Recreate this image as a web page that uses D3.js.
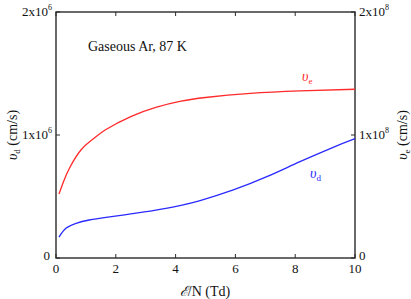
<!DOCTYPE html>
<html><head><meta charset="utf-8">
<script src="https://cdn.jsdelivr.net/npm/d3@7"></script>
</head><body style="margin:0;background:#fff"><svg id="c" width="411" height="299"></svg>
<script>
const fieldTd = [0.1,0.33,0.67,1.11,1.67,2.5,3.34,4.18,4.82,5.93,7.05,8.16,9.27,10];
const driftVd = [0.17e6,0.241e6,0.282e6,0.309e6,0.331e6,0.358e6,0.389e6,0.428e6,0.466e6,0.553e6,0.661e6,0.783e6,0.9e6,0.97e6];
const fieldTdE = [0.1,0.25,0.45,0.84,1.25,1.67,2.5,3.34,4.18,5,6.5,8.16,10];
const electronVe = [0.52e8,0.62e8,0.73e8,0.88e8,0.97e8,1.045e8,1.15e8,1.225e8,1.275e8,1.305e8,1.338e8,1.358e8,1.372e8];
const xTicks = [0,2,4,6,8,10];
const leftTicks = [0,1e6,2e6];
const rightTicks = [0,1e8,2e8];

const svg = d3.select("#c");
const FF = '"Liberation Serif"';
const L=56,R=355,T=12,B=258;
const x = d3.scaleLinear().domain([0,10]).range([L,R]);
const yL = d3.scaleLinear().domain([0,2e6]).range([B,T]);
const yR = d3.scaleLinear().domain([0,2e8]).range([B,T]);

const ax = "#2a2a2a", tc="#111";
svg.append("rect").attr("x",L).attr("y",T).attr("width",R-L).attr("height",B-T)
  .attr("fill","none").attr("stroke",ax).attr("stroke-width",1.4);

const tk=4;
const g = svg.append("g").attr("stroke",ax).attr("stroke-width",1);
xTicks.forEach(v=>{
  g.append("line").attr("x1",x(v)).attr("x2",x(v)).attr("y1",B).attr("y2",B-tk);
  g.append("line").attr("x1",x(v)).attr("x2",x(v)).attr("y1",T).attr("y2",T+tk);
});
leftTicks.forEach(v=>g.append("line").attr("x1",L).attr("x2",L+tk).attr("y1",yL(v)).attr("y2",yL(v)));
rightTicks.forEach(v=>g.append("line").attr("x1",R).attr("x2",R-tk).attr("y1",yR(v)).attr("y2",yR(v)));

function txt(){ return svg.append("text").style("font-family",FF); }
xTicks.forEach(v=>txt().attr("x",x(v)).attr("y",B+15).attr("text-anchor","middle")
  .attr("font-size",13).attr("fill",tc).text(v));
function expLabel(sel,v,exp){
  if(v===0){sel.text("0");return;}
  sel.append("tspan").text((v/Math.pow(10,exp))+"x10");
  sel.append("tspan").attr("dy",-6).attr("font-size",8).text(exp);
}
leftTicks.forEach(v=>{
  const t=txt().attr("x",L-4).attr("y",yL(v)+4).attr("text-anchor","end").attr("font-size",13).attr("fill",tc);
  if(v===0){t.attr("x",L-6).attr("y",yL(v)+2).text("0");}
  else expLabel(t,v,6);
});
rightTicks.forEach(v=>{
  const t=txt().attr("x",R+4).attr("y",yR(v)+(v===0?2:4)).attr("text-anchor","start").attr("font-size",13).attr("fill",tc);
  expLabel(t,v,8);
});

txt().attr("x",205).attr("y",296).attr("text-anchor","middle").attr("font-size",14).attr("fill",tc)
  .html('<tspan font-style="italic">ℰ</tspan>/N (Td)');
const lt = txt().attr("transform","translate(17,135) rotate(-90)").attr("text-anchor","middle").attr("font-size",14).attr("fill",tc);
lt.append("tspan").attr("font-style","italic").text("υ");
lt.append("tspan").attr("dy",3).attr("font-size",9).text("d");
lt.append("tspan").attr("dy",-3).text(" (cm/s)");
const rt = txt().attr("transform","translate(407,135) rotate(-90)").attr("text-anchor","middle").attr("font-size",14).attr("fill",tc);
rt.append("tspan").attr("font-style","italic").text("υ");
rt.append("tspan").attr("dy",3).attr("font-size",9).text("e");
rt.append("tspan").attr("dy",-3).text(" (cm/s)");

txt().attr("x",88).attr("y",51).attr("font-size",14).attr("fill",tc).text("Gaseous Ar, 87 K");

const lineVd = d3.line().x((d,i)=>x(fieldTd[i])).y(d=>yL(d)).curve(d3.curveNatural);
const lineVe = d3.line().x((d,i)=>x(fieldTdE[i])).y(d=>yR(d)).curve(d3.curveNatural);
svg.append("path").attr("d",lineVe(electronVe)).attr("fill","none").attr("stroke","#ff2a2a").attr("stroke-width",1.3);
svg.append("path").attr("d",lineVd(driftVd)).attr("fill","none").attr("stroke","#2a2aff").attr("stroke-width",1.3);

const le = txt().attr("x",302).attr("y",81).attr("font-size",14).attr("fill","#ff2a2a");
le.append("tspan").attr("font-style","italic").text("υ");
le.append("tspan").attr("dy",3).attr("font-size",9).text("e");
const ld = txt().attr("x",310).attr("y",178).attr("font-size",14).attr("fill","#2a2aff");
ld.append("tspan").attr("font-style","italic").text("υ");
ld.append("tspan").attr("dy",3).attr("font-size",9).text("d");
</script></body></html>
